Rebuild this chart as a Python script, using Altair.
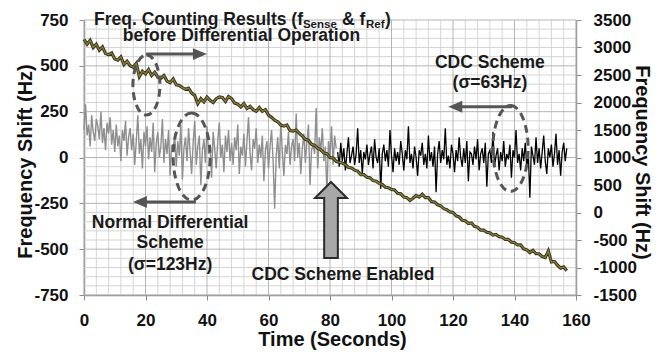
import altair as alt
import pandas as pd

# ---------------- data ----------------
STEP_FAST = 0.5   # s, sampling of the noise traces
STEP_DRIFT = 1.0  # s, sampling of the raw counter trace

# Normal differential scheme (left axis, Hz), t = 0 .. 82 s
gray_hz = [
    150, 290, 120, 180, 60, 230, 140, 90, 210, 170,
    100, 250, 80, 160, 40, 190, 130, 220, 70, 150,
    30, 180, 60, 120, -20, 150, 90, 200, 10, 110,
    160, 40, 130, -40, 90, 230, 20, 100, -60, 140,
    60, 170, -10, 110, 30, 190, -80, 80, 140, 0,
    60, 210, -30, 100, 20, 150, -100, 70, 40, 130,
    -50, 90, 10, 180, -120, 50, 110, -20, 160, 30,
    -90, 80, 200, -40, 60, 120, -150, 40, 100, -30,
    170, 20, 60, -110, 140, 50, -60, 90, 190, 0,
    70, -80, 120, 30, 150, -20, 80, -40, 110, 40,
    180, -90, 60, 10, 130, -50, 90, 220, 20, -70,
    100, 50, 160, -30, 70, 0, 120, -130, 40, 90,
    -60, 60, 150, -20, -280, 10, 110, -60, 190, 30,
    -100, 70, 20, 140, -40, 60, 100, -20, 240, 0,
    80, -90, 50, 130, -30, 90, 180, -150, 40, 70,
    20, 270, -60, 110, 30, 160, -20, 60, -200, 90,
    10, 170, -40, 120, 50,
]

# CDC scheme (left axis, Hz), t = 82.5 .. 157 s
black_hz = [
    30, -50, 80, -20, 50, -70, 20, 110, -30, 10,
    60, -40, 20, 160, -30, 40, -90, 30, -10, 70,
    -40, 20, 60, -60, 100, 0, -30, 50, -170, 20,
    70, -20, 40, -50, 150, 10, -80, 50, -20, 30,
    -40, 90, 20, -70, 40, -10, 170, -30, 20, -60,
    60, 0, -100, 40, 10, 80, -40, 20, -60, 120,
    -20, 30, -50, 60, -190, 20, 90, -30, 40, -10,
    160, -40, 10, -60, 70, 20, -80, 40, -20, 110,
    0, -50, 50, -30, 90, -130, 30, 20, -40, 60,
    -10, 100, -70, 20, 50, -30, 80, -160, 20, 40,
    -30, 140, -50, 10, 50, -70, 30, -20, 90, -50,
    20, -10, 70, -110, 40, 0, 150, -30, 20, -70,
    50, -20, 80, -50, 20, -220, 60, 10, -40, 110,
    -30, 50, -60, 30, 120, -20, -90, 50, 0, 70,
    -50, 20, 130, -40, 40, -100, 30, 80, -20, 50,
]

# Raw counter results f_Sense & f_Ref (right axis, Hz), t = 0 .. 157 s
drift_hz = [
    3150, 3060, 3130, 3000, 3060, 2950, 3010, 2890, 2870, 2900,
    2790, 2770, 2830, 2690, 2750, 2670, 2640, 2710, 2470, 2570,
    2520, 2600, 2490, 2550, 2460, 2440, 2490, 2390, 2360, 2430,
    2320, 2310, 2270, 2240, 2260, 2170, 2130, 1980, 2070, 2010,
    2100, 2040, 2000, 2070, 2100, 2090, 2020, 2110, 2070, 1990,
    1970, 1920, 1980, 1890, 1930, 1870, 1840, 1910, 1840, 1870,
    1770, 1730, 1680, 1650, 1590, 1570, 1590, 1490, 1480, 1500,
    1440, 1390, 1330, 1310, 1240, 1220, 1170, 1140, 1080, 1070,
    1000, 990, 930, 910, 900, 870, 820, 810, 770, 750,
    690, 690, 640, 630, 580, 570, 530, 510, 460, 450,
    420, 410, 350, 340, 280, 270, 220, 260, 310, 280,
    330, 270, 270, 200, 190, 140, 120, 70, 50, 10,
    0, -60, -80, -140, -150, -200, -190, -250, -270, -320,
    -320, -360, -370, -410, -400, -440, -450, -490, -490, -540,
    -550, -590, -590, -660, -680, -730, -690, -750, -750, -800,
    -820, -700, -900, -890, -960, -1010, -990, -1060,
]

x_ticks = [0, 20, 40, 60, 80, 100, 120, 140, 160]
yl_ticks = [-750, -500, -250, 0, 250, 500, 750]
yr_ticks = [-1500, -1000, -500, 0, 500, 1000, 1500, 2000, 2500, 3000, 3500]
x_minor = [t for t in range(0, 161, 4) if t % 20]
y_minor = [v for v in range(-750, 751, 50) if v % 250]

# annotation texts (time s, Hz on left axis)
txt_left = pd.DataFrame({
    "t": [3.25, 71.2, 83.9, 91.7, 97.9],
    "v": [723, 706, 723, 706, 723],
    "label": ["Freq. Counting Results (f", "Sense", "& f", "Ref", ")"],
    "fs": [17.5, 11.5, 17.5, 11.5, 17.5],
})
txt_center = pd.DataFrame({
    "t": [51.2, 132.0, 132.0, 28.0, 28.0, 28.0, 84.2],
    "v": [633, 488, 379, -385, -494, -614, -668],
    "label": ["before Differential Operation", "CDC Scheme", "(σ=63Hz)",
              "Normal Differential", "Scheme", "(σ=123Hz)", "CDC Scheme Enabled"],
})
arrows = pd.DataFrame({
    "t1": [20.2, 18.2, 120.75],
    "t2": [37.7, 36.4, 139.2],
    "v": [564, -243, 277],
    "head": [37.7, 18.2, 120.75],
    "dir": ["r", "l", "l"],
})
ellipses = [  # t, v, size, x/y ratio
    (20.3, 395, 3600, 0.45),
    (35.0, 5, 7569, 0.425),
    (138.7, 49, 7396, 0.41),
]
big_arrow = pd.DataFrame({"t": [80.33], "v": [-341]})

# ---------------- build ----------------
FONT = "Liberation Sans"
xs = alt.Scale(domain=[0, 160], nice=False, zero=False)
ysL = alt.Scale(domain=[-750, 750], nice=False, zero=False)
ysR = alt.Scale(domain=[-1500, 3500], nice=False, zero=False)
AXC = "#8a8a8a"
LBL = "'' + datum.value"

x_axis = alt.Axis(values=x_ticks, title="Time (Seconds)", grid=False, tickSize=5,
                  tickColor=AXC, domainColor=AXC, domainWidth=1.5, labelPadding=12,
                  labelFlush=False,
                  labelFontSize=17, labelFontWeight="bold", labelColor="#111", labelExpr=LBL,
                  titleFontSize=20, titleFontWeight="bold", titleColor="#111",
                  titleX=248, titleY=50, titleBaseline="alphabetic", titleAlign="center")
yl_axis = alt.Axis(values=yl_ticks, orient="left", title="Frequency Shift (Hz)", grid=False, tickSize=5,
                   tickColor=AXC, domainColor=AXC, domainWidth=1.5, labelPadding=11,
                   labelFontSize=17, labelFontWeight="bold", labelColor="#111", labelExpr=LBL,
                   titleFontSize=20, titleFontWeight="bold", titleColor="#111",
                   titleX=-53, titleY=141, titleAngle=-90, titleAlign="center",
                   titleBaseline="alphabetic")
yr_axis = alt.Axis(values=yr_ticks, orient="right", title="Frequency Shift (Hz)", grid=False,
                   tickSize=5, tickColor=AXC, domainColor=AXC, domainWidth=1.5, labelPadding=12,
                   labelFontSize=17, labelFontWeight="bold", labelColor="#111", labelExpr=LBL,
                   titleFontSize=20, titleFontWeight="bold", titleColor="#111",
                   titleX=59, titleY=142, titleAngle=90, titleAlign="center",
                   titleBaseline="alphabetic")


def X(f):
    # identical axis definition on every layer so the shared x axis merges cleanly
    return alt.X(f, type="quantitative", scale=xs, axis=x_axis)


def YL(f):
    return alt.Y(f, type="quantitative", scale=ysL, axis=None)


gray_df = pd.DataFrame({"t": [i * STEP_FAST for i in range(len(gray_hz))], "v": gray_hz})
t0 = gray_df["t"].iloc[-1]
black_df = pd.DataFrame({"t": [t0 + (i + 1) * STEP_FAST for i in range(len(black_hz))], "v": black_hz})
drift_df = pd.DataFrame({"t": [i * STEP_DRIFT for i in range(len(drift_hz))], "v": drift_hz})

vminor = alt.Chart(pd.DataFrame({"t": x_minor})).mark_rule(color="#d4d4d4", strokeWidth=1).encode(x=X("t"))
hminor = alt.Chart(pd.DataFrame({"v": y_minor})).mark_rule(color="#d4d4d4", strokeWidth=1).encode(y=YL("v"))
vmajor = alt.Chart(pd.DataFrame({"t": x_ticks})).mark_rule(color="#b4b4b4", strokeWidth=1).encode(x=X("t"))
hmajor = alt.Chart(pd.DataFrame({"v": yl_ticks})).mark_rule(color="#b4b4b4", strokeWidth=1).encode(y=YL("v"))

gray = alt.Chart(gray_df).mark_line(color="#8e8e8e", strokeWidth=1.4).encode(
    x=X("t"), y=alt.Y("v:Q", scale=ysL, axis=yl_axis))
black = alt.Chart(black_df).mark_line(color="#000000", strokeWidth=1.3).encode(x=X("t"), y=YL("v"))

drift_outer = alt.Chart(drift_df).mark_line(color="#37331a", strokeWidth=3.2).encode(
    x=X("t"), y=alt.Y("v:Q", scale=ysR, axis=yr_axis))
drift_inner = alt.Chart(drift_df).mark_line(color="#8d8240", strokeWidth=1.2).encode(
    x=X("t"), y=alt.Y("v:Q", scale=ysR, axis=None))

# annotations (left-axis coordinates)
KAP = 0.5523


def ellipse_path(k):
    a = k * KAP
    return (f"M 0 -1 C {a:.3f} -1 {k:.3f} -{KAP} {k:.3f} 0 "
            f"C {k:.3f} {KAP} {a:.3f} 1 0 1 "
            f"C -{a:.3f} 1 -{k:.3f} {KAP} -{k:.3f} 0 "
            f"C -{k:.3f} -{KAP} -{a:.3f} -1 0 -1 Z")


ANN = "#555555"
ann_layers = []
for (t, v, s, k) in ellipses:
    ann_layers.append(
        alt.Chart(pd.DataFrame({"t": [t], "v": [v]})).mark_point(
            shape=ellipse_path(k), size=s, filled=False, opacity=1, color=ANN,
            strokeWidth=3, strokeDash=[8, 5]).encode(x=X("t"), y=YL("v")))

ann_layers.append(
    alt.Chart(arrows).mark_rule(color=ANN, strokeWidth=3).encode(x=X("t1"), x2="t2", y=YL("v")))
ann_layers.append(
    alt.Chart(arrows[arrows["dir"] == "r"]).mark_point(
        shape="M 1 0 L -1 -0.85 L -1 0.85 Z", size=196, filled=True, opacity=1,
        color=ANN, strokeWidth=0).encode(x=X("head"), y=YL("v")))
ann_layers.append(
    alt.Chart(arrows[arrows["dir"] == "l"]).mark_point(
        shape="M -1 0 L 1 -0.85 L 1 0.85 Z", size=196, filled=True, opacity=1,
        color=ANN, strokeWidth=0).encode(x=X("head"), y=YL("v")))
ann_layers.append(
    alt.Chart(big_arrow).mark_point(
        shape="M 0 -1 L 0.42 -0.58 L 0.18 -0.58 L 0.18 1 L -0.18 1 L -0.18 -0.58 L -0.42 -0.58 Z",
        size=5776, filled=True, opacity=1, fill="#a8a8a8", stroke="#2a2a2a",
        strokeWidth=2).encode(x=X("t"), y=YL("v")))
ann_layers.append(
    alt.Chart(txt_left).mark_text(align="left", baseline="alphabetic", fontWeight="bold",
                                  color="#1a1a1a", font=FONT).encode(
        x=X("t"), y=YL("v"), text="label:N", size=alt.Size("fs:Q", scale=None)))
ann_layers.append(
    alt.Chart(txt_center).mark_text(align="center", baseline="alphabetic", fontWeight="bold",
                                    color="#1a1a1a", font=FONT, fontSize=17.5).encode(
        x=X("t"), y=YL("v"), text="label:N"))

chart = alt.layer(vminor, hminor, vmajor, hmajor, gray, black, drift_outer, drift_inner,
                  *ann_layers).resolve_scale(y="independent").properties(
    width=492, height=275,
    autosize=alt.AutoSizeParams(type="none"),
    padding={"left": 76, "top": 12, "right": 76, "bottom": 55},
    background="white",
).configure(font=FONT).configure_view(stroke=None)

chart.save("out.html", embed_options={"renderer": "svg", "actions": False})
